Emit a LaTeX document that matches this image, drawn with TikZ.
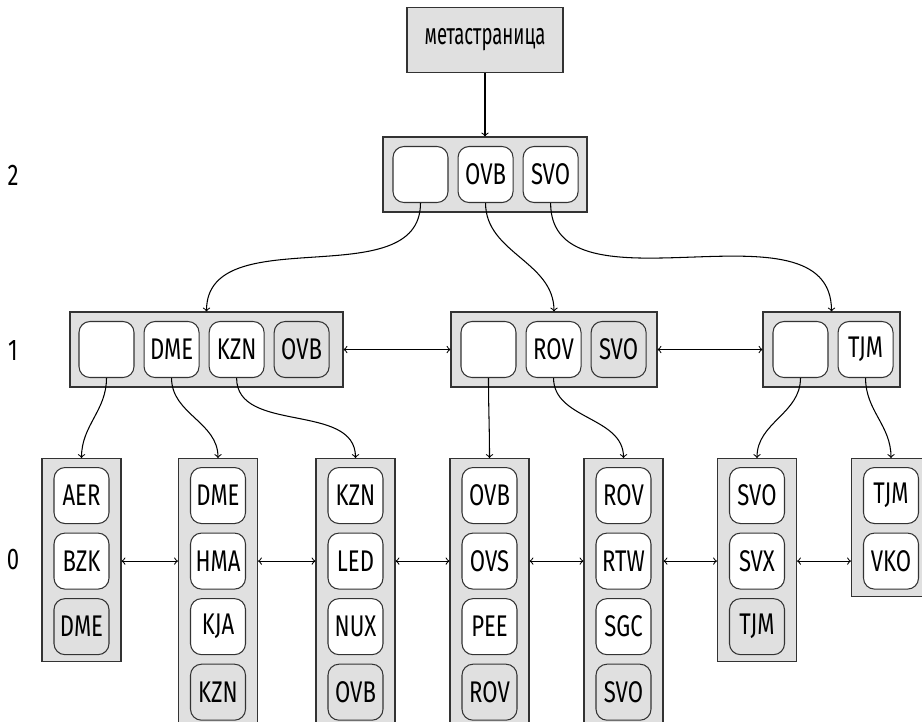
\documentclass[tikz,border=0pt]{standalone}
\usepackage{fontspec}
\setmainfont{Fira Sans}[FakeStretch=0.74]
\newfontfamily\metafont{Fira Sans}[FakeStretch=0.62]
\usepackage{tikz}
\usetikzlibrary{arrows,positioning}

\definecolor{pagefill}{HTML}{E0E0E0}
\definecolor{edgegray}{HTML}{333333}

\begin{document}
\begin{tikzpicture}[>=to, line width=0.6pt,
  pagebox/.style={draw=edgegray, fill=pagefill, minimum height=1.5cm, inner sep=0pt},
  cell/.style={draw=edgegray, fill=white, rounded corners=0.22cm, minimum width=1.1cm, minimum height=1.12cm,
    inner sep=2pt, font=\fontsize{17}{19}\selectfont},
  lastcell/.style={cell, fill=pagefill},
  lvl/.style={font=\fontsize{17}{19}\selectfont},
  arr/.style={->}]
\useasboundingbox (0,0) rectangle (18.44,-14.42);
\clip (0,0) rectangle (18.44,-14.42);

% Meta page
\node[pagebox, fill=pagefill, minimum width=3.12cm, minimum height=1.3cm, font=\metafont\fontsize{17}{19}\selectfont] (meta) at (9.7,-0.8) {метастраница};

% Level 2: root page
\node[pagebox, minimum width=4.08cm] (root) at (9.7,-3.49) {};
\node[cell, right=0.2cm of root.west] (rE) {};
\node[cell, right=0.18cm of rE] (rOVB) {OVB};
\node[cell, right=0.18cm of rOVB] (rSVO) {SVO};

% Level 1: inner pages
\node[pagebox, minimum width=5.46cm] (pa) at (4.13,-6.99) {};
\node[cell, right=0.18cm of pa.west] (aE) {};
\node[cell, right=0.18cm of aE] (aDME) {DME};
\node[cell, right=0.18cm of aDME] (aKZN) {KZN};
\node[lastcell, right=0.18cm of aKZN] (aOVB) {OVB};

\node[pagebox, minimum width=4.12cm] (pb) at (11.08,-6.99) {};
\node[cell, right=0.2cm of pb.west] (bE) {};
\node[cell, right=0.18cm of bE] (bROV) {ROV};
\node[lastcell, right=0.18cm of bROV] (bSVO) {SVO};

\node[pagebox, minimum width=2.74cm] (pc) at (16.63,-6.99) {};
\node[cell, right=0.2cm of pc.west] (cE) {};
\node[cell, right=0.18cm of cE] (cTJM) {TJM};

% Level 0: leaf pages
\node[pagebox, minimum width=1.58cm, minimum height=4.06cm, anchor=north] (l1) at (1.63,-9.16) {};
\node[cell, below=0.18cm of l1.north] (l1a) {AER};
\node[cell, below=0.17cm of l1a] (l1b) {BZK};
\node[lastcell, below=0.17cm of l1b] (l1c) {DME};

\node[pagebox, minimum width=1.58cm, minimum height=5.35cm, anchor=north] (l2) at (4.36,-9.16) {};
\node[cell, below=0.18cm of l2.north] (l2a) {DME};
\node[cell, below=0.17cm of l2a] (l2b) {HMA};
\node[cell, below=0.17cm of l2b] (l2c) {KJA};
\node[lastcell, below=0.17cm of l2c] (l2d) {KZN};

\node[pagebox, minimum width=1.58cm, minimum height=5.35cm, anchor=north] (l3) at (7.11,-9.16) {};
\node[cell, below=0.18cm of l3.north] (l3a) {KZN};
\node[cell, below=0.17cm of l3a] (l3b) {LED};
\node[cell, below=0.17cm of l3b] (l3c) {NUX};
\node[lastcell, below=0.17cm of l3c] (l3d) {OVB};

\node[pagebox, minimum width=1.58cm, minimum height=5.35cm, anchor=north] (l4) at (9.79,-9.16) {};
\node[cell, below=0.18cm of l4.north] (l4a) {OVB};
\node[cell, below=0.17cm of l4a] (l4b) {OVS};
\node[cell, below=0.17cm of l4b] (l4c) {PEE};
\node[lastcell, below=0.17cm of l4c] (l4d) {ROV};

\node[pagebox, minimum width=1.58cm, minimum height=5.35cm, anchor=north] (l5) at (12.47,-9.16) {};
\node[cell, below=0.18cm of l5.north] (l5a) {ROV};
\node[cell, below=0.17cm of l5a] (l5b) {RTW};
\node[cell, below=0.17cm of l5b] (l5c) {SGC};
\node[lastcell, below=0.17cm of l5c] (l5d) {SVO};

\node[pagebox, minimum width=1.58cm, minimum height=4.06cm, anchor=north] (l6) at (15.14,-9.16) {};
\node[cell, below=0.18cm of l6.north] (l6a) {SVO};
\node[cell, below=0.17cm of l6a] (l6b) {SVX};
\node[lastcell, below=0.17cm of l6b] (l6c) {TJM};

\node[pagebox, minimum width=1.58cm, minimum height=2.76cm, anchor=north] (l7) at (17.82,-9.16) {};
\node[cell, below=0.18cm of l7.north] (l7a) {TJM};
\node[cell, below=0.17cm of l7a] (l7b) {VKO};

% Level numbers
\node[lvl] (n2) at (0.26,-3.5) {2};
\node[lvl] (n1) at (0.26,-7.0) {1};
\node[lvl] (n0) at (0.26,-11.2) {0};

% Down pointers
\draw[arr] (meta) -- (root);
\draw[arr] (rE.south) to[out=-90, in=90] (pa.north);
\draw[arr] (rOVB.south) to[out=-90, in=90] (pb.north);
\draw[arr] (rSVO.south) to[out=-90, in=90] (pc.north);

\draw[arr] (aE.south) to[out=-90, in=90] (l1.north);
\draw[arr] (aDME.south) to[out=-90, in=90] (l2.north);
\draw[arr] (aKZN.south) to[out=-90, in=90] (l3.north);
\draw[arr] (bE.south) to[out=-90, in=90] (l4.north);
\draw[arr] (bROV.south) to[out=-90, in=90] (l5.north);
\draw[arr] (cE.south) to[out=-90, in=90] (l6.north);
\draw[arr] (cTJM.south) to[out=-90, in=90] (l7.north);

% Sibling links
\draw[<->] (pa) -- (pb);
\draw[<->] (pb) -- (pc);
\draw[<->] (l1.east |- l1b) -- (l2.west |- l1b);
\draw[<->] (l2.east |- l1b) -- (l3.west |- l1b);
\draw[<->] (l3.east |- l1b) -- (l4.west |- l1b);
\draw[<->] (l4.east |- l1b) -- (l5.west |- l1b);
\draw[<->] (l5.east |- l1b) -- (l6.west |- l1b);
\draw[<->] (l6.east |- l1b) -- (l7.west |- l1b);
\end{tikzpicture}
\end{document}
